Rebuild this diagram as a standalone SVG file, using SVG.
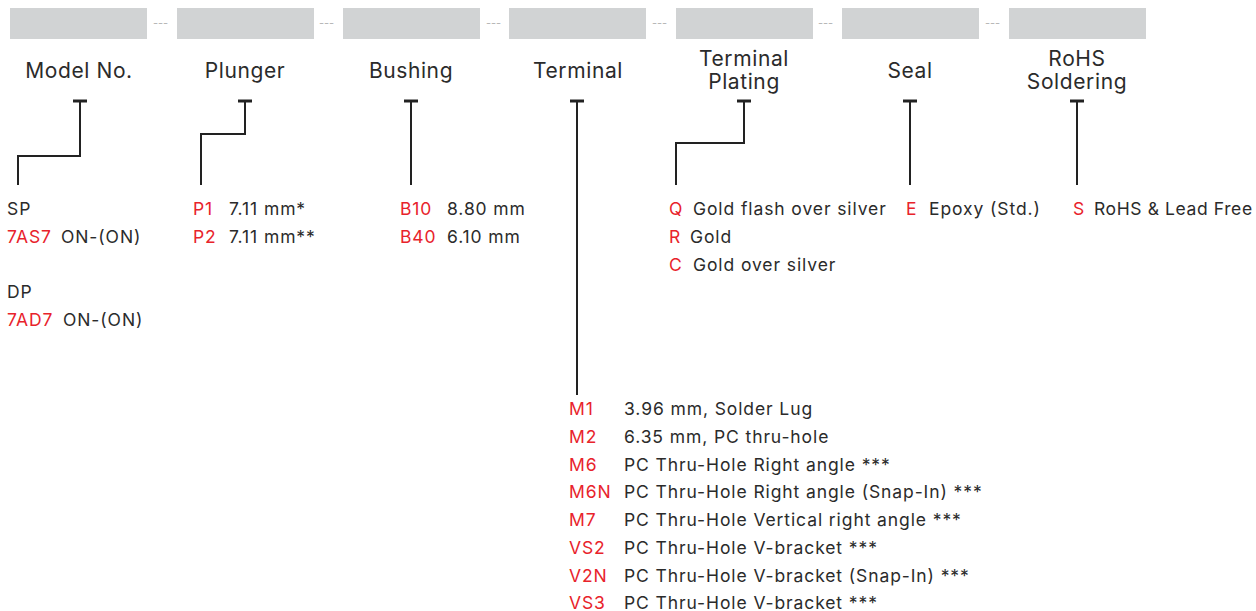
<svg xmlns="http://www.w3.org/2000/svg" width="1256" height="611" viewBox="0 0 1256 611">
<style>
.box{fill:#d1d3d4}
.dash{font-family:"Inter","Liberation Sans",sans-serif;font-size:11px;fill:#b5b5b5}
.hd{font-family:"Inter","Liberation Sans",sans-serif;font-size:21px;letter-spacing:0.6px;fill:#2b2b2b;text-anchor:middle}
.t{font-family:"Inter","Liberation Sans",sans-serif;font-size:17.5px;letter-spacing:0.9px;fill:#2b2b2b}
.r{fill:#e8232b}
.ln{fill:none;stroke:#222;stroke-width:2}
.bar{stroke:#222;stroke-width:3}
</style>
<rect width="1256" height="611" fill="#fff"/>
<g id="header">
<rect class="box" x="10" y="8" width="137" height="31"/>
<rect class="box" x="177" y="8" width="137" height="31"/>
<rect class="box" x="343" y="8" width="137" height="31"/>
<rect class="box" x="509" y="8" width="137" height="31"/>
<rect class="box" x="676" y="8" width="137" height="31"/>
<rect class="box" x="842" y="8" width="137" height="31"/>
<rect class="box" x="1009" y="8" width="137" height="31"/>
<text class="dash" x="153" y="27">---</text>
<text class="dash" x="319" y="27">---</text>
<text class="dash" x="486" y="27">---</text>
<text class="dash" x="652" y="27">---</text>
<text class="dash" x="818" y="27">---</text>
<text class="dash" x="985" y="27">---</text>
</g>
<g id="connectors">
<line class="bar" x1="73" y1="101" x2="87" y2="101"/>
<polyline class="ln" points="80,101 80,156 18,156 18,185"/>
<line class="bar" x1="238" y1="101" x2="252" y2="101"/>
<polyline class="ln" points="245,101 245,134 201,134 201,185"/>
<line class="bar" x1="404" y1="101" x2="418" y2="101"/>
<polyline class="ln" points="411,101 411,185"/>
<line class="bar" x1="570" y1="101" x2="584" y2="101"/>
<polyline class="ln" points="577,101 577,395"/>
<line class="bar" x1="737" y1="101" x2="751" y2="101"/>
<polyline class="ln" points="744,101 744,143 676,143 676,185"/>
<line class="bar" x1="903" y1="101" x2="917" y2="101"/>
<polyline class="ln" points="910,101 910,185"/>
<line class="bar" x1="1070" y1="101" x2="1084" y2="101"/>
<polyline class="ln" points="1077,101 1077,185"/>
</g>
<g id="model">
<text class="hd" x="79" y="78">Model No.</text>
<text class="t" x="7" y="215">SP</text>
<text class="t" x="7" y="243"><tspan class="r">7AS7</tspan><tspan x="61">ON-(ON)</tspan></text>
<text class="t" x="7" y="298">DP</text>
<text class="t" x="7" y="326"><tspan class="r">7AD7</tspan><tspan x="63">ON-(ON)</tspan></text>
</g>
<g id="plunger">
<text class="hd" x="245" y="78">Plunger</text>
<text class="t" x="193" y="215"><tspan class="r">P1</tspan><tspan x="229">7.11 mm*</tspan></text>
<text class="t" x="193" y="243"><tspan class="r">P2</tspan><tspan x="229">7.11 mm**</tspan></text>
</g>
<g id="bushing">
<text class="hd" x="411" y="78">Bushing</text>
<text class="t" x="400" y="215"><tspan class="r">B10</tspan><tspan x="447">8.80 mm</tspan></text>
<text class="t" x="400" y="243"><tspan class="r">B40</tspan><tspan x="447">6.10 mm</tspan></text>
</g>
<g id="terminal">
<text class="hd" x="578" y="78">Terminal</text>
<text class="t" x="569" y="415"><tspan class="r">M1</tspan><tspan x="624">3.96 mm, Solder Lug</tspan></text>
<text class="t" x="569" y="443"><tspan class="r">M2</tspan><tspan x="624">6.35 mm, PC thru-hole</tspan></text>
<text class="t" x="569" y="471"><tspan class="r">M6</tspan><tspan x="624">PC Thru-Hole Right angle ***</tspan></text>
<text class="t" x="569" y="498"><tspan class="r">M6N</tspan><tspan x="624">PC Thru-Hole Right angle (Snap-In) ***</tspan></text>
<text class="t" x="569" y="526"><tspan class="r">M7</tspan><tspan x="624">PC Thru-Hole Vertical right angle ***</tspan></text>
<text class="t" x="569" y="554"><tspan class="r">VS2</tspan><tspan x="624">PC Thru-Hole V-bracket ***</tspan></text>
<text class="t" x="569" y="582"><tspan class="r">V2N</tspan><tspan x="624">PC Thru-Hole V-bracket (Snap-In) ***</tspan></text>
<text class="t" x="569" y="609"><tspan class="r">VS3</tspan><tspan x="624">PC Thru-Hole V-bracket ***</tspan></text>
</g>
<g id="plating">
<text class="hd" x="744" y="66">Terminal</text>
<text class="hd" x="744" y="89">Plating</text>
<text class="t" x="669" y="215"><tspan class="r">Q</tspan><tspan x="693">Gold flash over silver</tspan></text>
<text class="t" x="669" y="243"><tspan class="r">R</tspan><tspan x="690">Gold</tspan></text>
<text class="t" x="669" y="271"><tspan class="r">C</tspan><tspan x="693">Gold over silver</tspan></text>
</g>
<g id="seal">
<text class="hd" x="910" y="78">Seal</text>
<text class="t" x="906" y="215"><tspan class="r">E</tspan><tspan x="929">Epoxy (Std.)</tspan></text>
</g>
<g id="rohs">
<text class="hd" x="1077" y="66">RoHS</text>
<text class="hd" x="1077" y="89">Soldering</text>
<text class="t" x="1073" y="215" style="letter-spacing:0.6px"><tspan class="r">S</tspan><tspan x="1094">RoHS &amp; Lead Free</tspan></text>
</g>
</svg>
